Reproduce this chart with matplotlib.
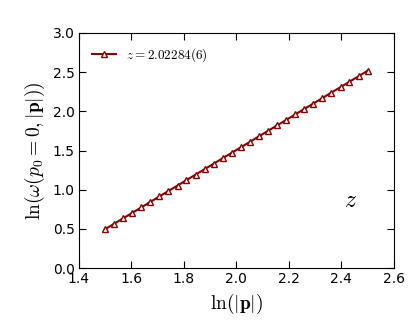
import matplotlib
matplotlib.use("Agg")
import matplotlib.pyplot as plt

# ln|p| and ln(omega) values
ln_p = [1.500, 1.534, 1.569, 1.603, 1.638, 1.672, 1.707, 1.741, 1.776, 1.810,
        1.845, 1.879, 1.914, 1.948, 1.983, 2.017, 2.052, 2.086, 2.121, 2.155,
        2.190, 2.224, 2.259, 2.293, 2.328, 2.362, 2.397, 2.431, 2.466, 2.500]
ln_omega = [0.495, 0.565, 0.635, 0.704, 0.774, 0.844, 0.914, 0.983, 1.053, 1.123,
            1.193, 1.262, 1.332, 1.402, 1.472, 1.541, 1.611, 1.681, 1.751, 1.820,
            1.890, 1.960, 2.030, 2.099, 2.169, 2.239, 2.309, 2.378, 2.448, 2.518]
fit_label = r"$z = 2.02284(6)$"

plt.rcParams['mathtext.fontset'] = 'cm'

fig = plt.figure(figsize=(4.15, 3.23), dpi=100)
ax = fig.add_axes([0.19, 0.17, 0.759, 0.728])

ax.plot(ln_p, ln_omega, '-^', color='#8B0000', mfc='white', mec='#8B0000',
        markersize=4.5, markeredgewidth=1.0, linewidth=1.5, label=fit_label)

ax.set_xlim(1.4, 2.6)
ax.set_ylim(0.0, 3.0)
ax.set_xticks([1.4, 1.6, 1.8, 2.0, 2.2, 2.4, 2.6])
ax.set_yticks([0.0, 0.5, 1.0, 1.5, 2.0, 2.5, 3.0])
ax.tick_params(direction='in', top=True, right=True, labelsize=10, length=5, pad=3)

ax.set_xlabel(r"$\ln(|\mathbf{p}|)$", fontsize=14)
ax.set_ylabel(r"$\ln(\omega(p_0=0,|\mathbf{p}|))$", fontsize=14)

ax.text(2.41, 0.78, r"$z$", fontsize=17)

ax.legend(loc='upper left', frameon=False, numpoints=1, fontsize=9.5,
          handlelength=1.8, borderaxespad=0.6)

fig.savefig("out.png", dpi=100)
